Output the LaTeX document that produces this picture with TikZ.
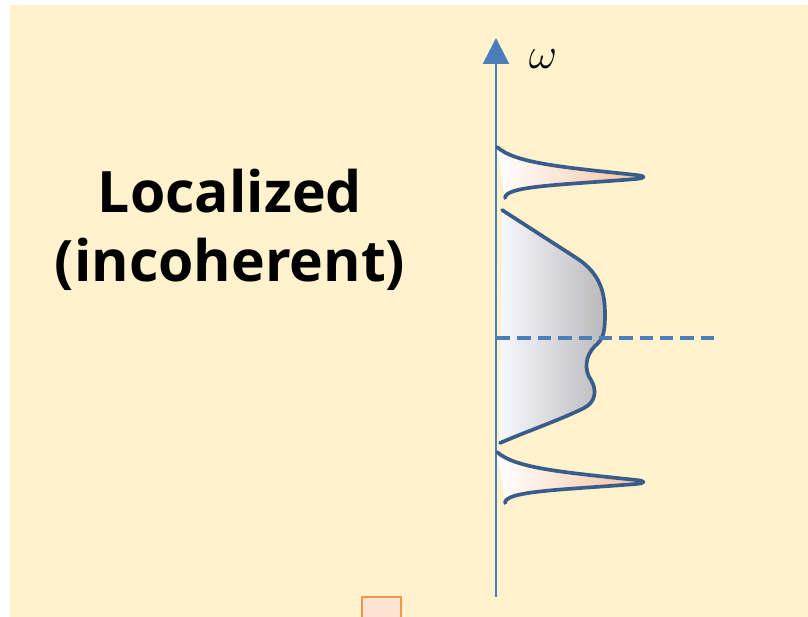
\documentclass[tikz,border=0pt]{standalone}
\usepackage{fontspec}
\setsansfont{Open Sans}
\usetikzlibrary{arrows.meta,positioning,calc}
\definecolor{bgyellow}{HTML}{FFF2CC}
\definecolor{axisblue}{HTML}{4A7EBB}
\definecolor{curveblue}{HTML}{385D8A}
\definecolor{peach}{HTML}{F6C09C}
\definecolor{boxorange}{HTML}{F79646}
\definecolor{boxfill}{HTML}{FDE3D2}

\begin{document}
\begin{tikzpicture}[x=0.02cm,y=-0.02cm,>=Triangle,
    axis/.style={draw=axisblue,line width=1.5pt},
    curve/.style={draw=curveblue,line width=2.1pt,line join=round,line cap=round},
    peakfill/.style={left color=white,right color=peach},
    bandfill/.style={left color=blue!3!white,right color=black!27},
    label/.style={font=\sffamily\bfseries\fontsize{32.5}{32.5}\selectfont,inner sep=0pt}]
      \clip (0,0) rectangle (808,617);
      \fill[bgyellow] (10,5) rectangle (808,617);
      \node[label,anchor=base] (loc) at (230,213) {Localized};
      \node[label,anchor=base] (inc) at (230,282) {(incoherent)};
      \coordinate (bot) at (496,597);
      \coordinate (top) at (496,38);
      \draw[axis,-{Triangle[length=14.7pt,width=14.7pt]}] (bot)--(top);
      \node[inner sep=0pt,font=\fontsize{37}{37}\selectfont] (w) at (543,59) {$\omega$};
      % incoherent band
      \path[bandfill] (502,210) -- (578,259) .. controls (600,274) and (605,292) .. (605,315)
        .. controls (605,335) and (602,340) .. (595,346) .. controls (585,356) and (584,370) .. (591,380)
        .. controls (597,390) and (596,402) .. (584,408) .. controls (560,420) and (530,430) .. (500,443) -- cycle;
      \draw[curve] (502,210) -- (578,259) .. controls (600,274) and (605,292) .. (605,315)
        .. controls (605,335) and (602,340) .. (595,346) .. controls (585,356) and (584,370) .. (591,380)
        .. controls (597,390) and (596,402) .. (584,408) .. controls (560,420) and (530,430) .. (500,443);
      % Hubbard peaks
      \foreach \dy in {0,305}{
        \begin{scope}[yshift=-\dy*0.02cm]
          \path[peakfill] (497,147) .. controls (515,163) and (560,167) .. (636,175)
            .. controls (646,176) and (646,178) .. (636,179) .. controls (560,185) and (505,186) .. (505,198) -- cycle;
          \draw[curve] (497,147) .. controls (515,163) and (560,167) .. (636,175)
            .. controls (646,176) and (646,178) .. (636,179) .. controls (560,185) and (505,186) .. (505,198);
        \end{scope}
      }
      \coordinate (fl) at (497,338);
      \coordinate (fr) at (718,338);
      \draw[draw=axisblue,line width=2.8pt,dash pattern=on 7.6pt off 4pt] (fl)--(fr);
      \draw[draw=boxorange,fill=boxfill,line width=1.5pt] (362,597) rectangle (401,630);
    \end{tikzpicture}
\end{document}
